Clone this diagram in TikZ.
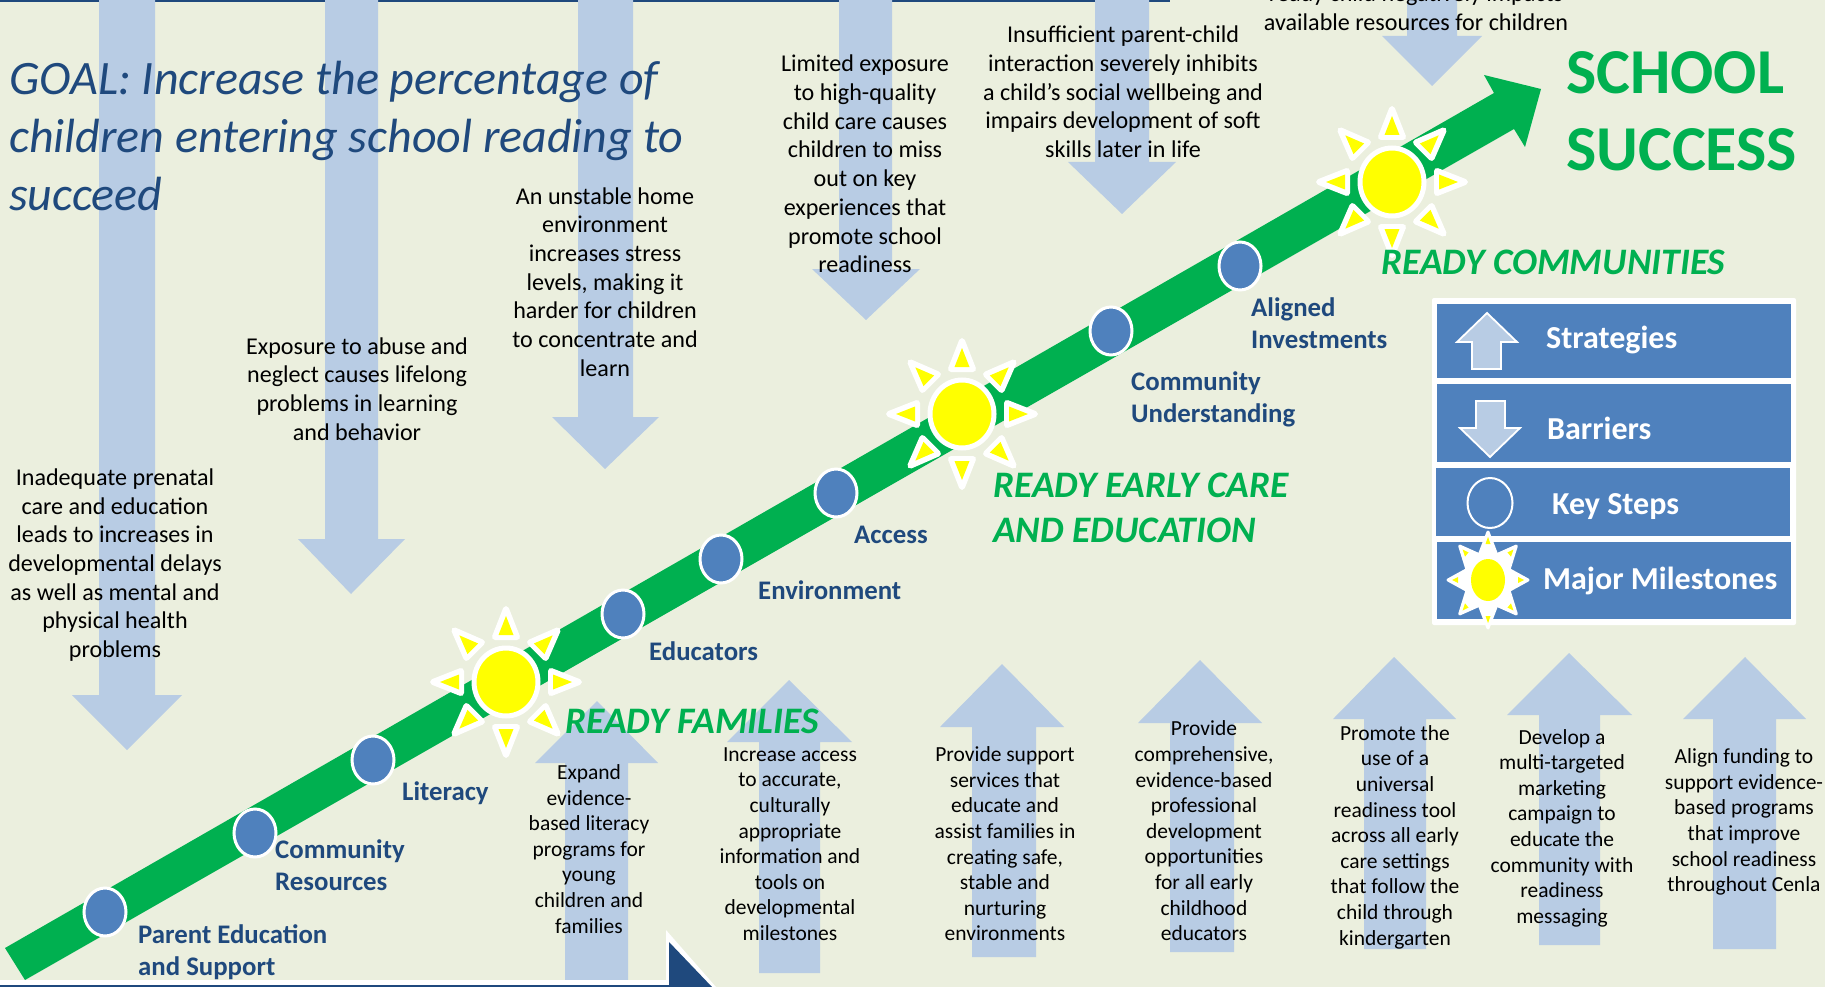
\documentclass[tikz,border=0pt]{standalone}
\usepackage{fontspec}
\setmainfont{Carlito}
\usetikzlibrary{shapes.geometric}
\definecolor{bgc}{HTML}{EBEFDE}
\definecolor{arrowc}{HTML}{B8CCE4}
\definecolor{greenc}{HTML}{00B050}
\definecolor{bluec}{HTML}{4F81BD}
\definecolor{navyc}{HTML}{1F497D}
\definecolor{sunyellow}{HTML}{FFFF00}
\newcommand{\downarr}[7]{\fill[arrowc] (#1,0) -- (#2,0) -- (#2,#3) -- (#5,#3) -- (#6,#7) -- (#4,#3) -- (#1,#3) -- cycle;}
\newcommand{\uparr}[8]{\fill[arrowc] (#1,#8) -- (#2,#8) -- (#2,#3) -- (#5,#3) -- (#6,#7) -- (#4,#3) -- (#1,#3) -- cycle;}
\newcommand{\sunshape}[3]{%
 \foreach \a in {0,45,...,315}{
  \begin{scope}[shift={(#1,#2)},rotate=\a]
   \fill[white,draw=white,line width=6pt,line join=round] (-45,-11) -- (-73,0) -- (-45,11) -- cycle;
   \fill[sunyellow] (-47,-7.5) -- (-66,0) -- (-47,7.5) -- cycle;
  \end{scope}}
 \node[sunc] (#3) at (#1,#2) {};}
\tikzset{
 body/.style={font=\fontsize{24.1}{28.7}\selectfont,align=center,text=black,inner sep=0pt},
 small/.style={font=\fontsize{21.5}{25.6}\selectfont,align=center,text=black,inner sep=0pt},
 stepl/.style={font=\fontsize{26.8}{32}\selectfont\bfseries,align=left,text=navyc,anchor=west,inner sep=0pt},
 ready/.style={font=\fontsize{37.4}{45}\selectfont\bfseries\itshape,align=left,text=greenc,anchor=west,inner sep=0pt},
 legt/.style={font=\fontsize{32}{36}\selectfont\bfseries,text=white,anchor=west,inner sep=0pt},
 keyc/.style={ellipse,minimum width=42pt,minimum height=48pt,inner sep=0pt,fill=bluec,draw=white,line width=3pt},
 sunc/.style={ellipse,minimum width=64pt,minimum height=68pt,inner sep=0pt,fill=sunyellow,draw=white,line width=5pt},
 legrow/.style={fill=bluec}
}
\begin{document}
\begin{tikzpicture}[x=1pt,y=-1pt]
\useasboundingbox (0,0) rectangle (1825,987);
\clip (0,0) rectangle (1825,987);
\fill[bgc] (0,0) rectangle (1825,987);
\fill[navyc] (0,0) rectangle (1170,2);
% barrier arrows
\downarr{99}{155}{695}{72}{182}{127}{750}
\downarr{325}{378}{539}{298}{405}{351}{594}
\downarr{578}{633}{417}{552}{659}{605}{469}
\downarr{839}{892}{269}{812}{920}{866}{320}
\downarr{1095}{1149}{162}{1068}{1176}{1122}{214}
\downarr{1407}{1457}{36}{1382}{1482}{1432}{86}
% strategy arrows
\uparr{565}{628}{763}{535}{658}{597}{701}{980}
\uparr{759}{820}{742}{727}{852}{789}{680}{973}
\uparr{972}{1036}{727}{940}{1064}{1002}{664}{957}
\uparr{1170}{1234}{723}{1138}{1262}{1200}{660}{952}
\uparr{1364}{1426}{719}{1333}{1456}{1394}{657}{949}
\uparr{1539}{1600}{715}{1507}{1632}{1569}{653}{945}
\uparr{1713}{1776}{719}{1683}{1806}{1745}{657}{949}
% band
\fill[greenc] (5,948) -- (1494,93) -- (1484,75) -- (1541,89) -- (1525,147) -- (1514,129) -- (25,980) -- cycle;
% bottom edge
\fill[white] (0,980) -- (666,980) -- (666,930) -- (716,987) -- (0,987) -- cycle;
\fill[navyc] (0,985) rectangle (669,987);
\fill[navyc] (669,942) -- (712,987) -- (669,987) -- cycle;
% key steps
\foreach \n/\x/\y in {k1/105/912,k2/255/833,k3/373/760,k4/623/614,k5/721/559,k6/836/493,k7/1111/331,k8/1240/266}{
 \node[keyc] (\n) at (\x,\y) {};}
% suns
\sunshape{506}{682}{s1}
\sunshape{962}{414}{s2}
\sunshape{1392}{182}{s3}
% goal
\node[anchor=west,align=left,text=navyc,inner sep=0pt,font=\fontsize{48}{58}\selectfont\itshape] (goal) at (9,136) {GOAL: Increase the percentage of\\children entering school reading to\\succeed};
% barrier text
\node[body] (b1) at (115,565) {Inadequate prenatal\\care and education\\leads to increases in\\developmental delays\\as well as mental and\\physical health\\problems};
\node[body] (b2) at (357,389) {Exposure to abuse and\\neglect causes lifelong\\problems in learning\\and behavior};
\node[body] (b3) at (605,282) {An unstable home\\environment\\increases stress\\levels, making it\\harder for children\\to concentrate and\\learn};
\node[body] (b4) at (865,164) {Limited exposure\\to high-quality\\child care causes\\children to miss\\out on key\\experiences that\\promote school\\readiness};
\node[body] (b5) at (1123,92) {Insufficient parent-child\\interaction severely inhibits\\a child’s social wellbeing and\\impairs development of soft\\skills later in life};
\node[body] (b6) at (1416,8) {ready child negatively impacts\\available resources for children};
% strategy text
\node[small] (t1) at (589,849) {Expand\\evidence-\\based literacy\\programs for\\young\\children and\\families};
\node[small] (t2) at (790,844) {Increase access\\to accurate,\\culturally\\appropriate\\information and\\tools on\\developmental\\milestones};
\node[small] (t3) at (1005,844) {Provide support\\services that\\educate and\\assist families in\\creating safe,\\stable and\\nurturing\\environments};
\node[small] (t4) at (1204,831) {Provide\\comprehensive,\\evidence-based\\professional\\development\\opportunities\\for all early\\childhood\\educators};
\node[small] (t5) at (1395,837) {Promote the\\use of a\\universal\\readiness tool\\across all early\\care settings\\that follow the\\child through\\kindergarten};
\node[small] (t6) at (1562,828) {Develop a\\multi-targeted\\marketing\\campaign to\\educate the\\community with\\readiness\\messaging};
\node[small] (t7) at (1744,822) {Align funding to\\support evidence-\\based programs\\that improve\\school readiness\\throughout Cenla};
% step labels
\node[stepl] (l1) at (138,952) {Parent Education\\and Support};
\node[stepl] (l2) at (275,865) {Community\\Resources};
\node[stepl] (l3) at (402,793) {Literacy};
\node[stepl] (l4) at (649,651) {Educators};
\node[stepl] (l5) at (758,590) {Environment};
\node[stepl] (l6) at (854,535) {Access};
\node[stepl] (l7) at (1131,399) {Community\\Understanding};
\node[stepl] (l8) at (1251,323) {Aligned\\Investments};
% milestones
\node[ready] (r1) at (565,721) {READY FAMILIES};
\node[ready] (r2) at (993,508) {READY EARLY CARE\\AND EDUCATION};
\node[ready] (r3) at (1381,262) {READY COMMUNITIES};
\node[anchor=west,align=left,text=greenc,inner sep=0pt,font=\fontsize{64}{77}\selectfont\bfseries] (succ) at (1566,111) {SCHOOL\\SUCCESS};
% legend
\fill[white,rounded corners=2pt] (1432,298) rectangle (1796,625);
\fill[legrow] (1437,304) rectangle (1791,378);
\fill[legrow] (1437,384) rectangle (1791,462);
\fill[legrow] (1436,468) rectangle (1790,536);
\fill[legrow] (1437,542) rectangle (1791,619);
\draw[fill=arrowc,draw=white,line width=1.8pt] (1472,369) -- (1501,369) -- (1501,342) -- (1517,342) -- (1487,313) -- (1457,342) -- (1472,342) -- cycle;
\draw[fill=arrowc,draw=white,line width=1.8pt] (1476,401) -- (1505,401) -- (1505,428) -- (1520,428) -- (1490,457) -- (1460,428) -- (1476,428) -- cycle;
\node[ellipse,minimum width=45pt,minimum height=50pt,inner sep=0pt,draw=white,line width=2pt] (legk) at (1490,503) {};
\foreach \a in {0,45,...,315}{
 \begin{scope}[shift={(1488,580)},yscale=1.2,rotate=\a]
  \fill[white,draw=white,line width=3pt,line join=round] (-16,-11) -- (-40,0) -- (-16,11) -- cycle;
  \fill[sunyellow] (-30,-2.5) -- (-36,0) -- (-30,2.5) -- cycle;
 \end{scope}}
\fill[white] (1488,580) ellipse (20 and 24);
\node[ellipse,minimum width=34pt,minimum height=42pt,inner sep=0pt,fill=sunyellow] (legs) at (1488,580) {};
\node[legt] (g1) at (1546,340) {Strategies};
\node[legt] (g2) at (1547,428) {Barriers};
\node[legt] (g3) at (1552,507) {Key Steps};
\node[legt] (g4) at (1543,581) {Major Milestones};
\end{tikzpicture}
\end{document}
